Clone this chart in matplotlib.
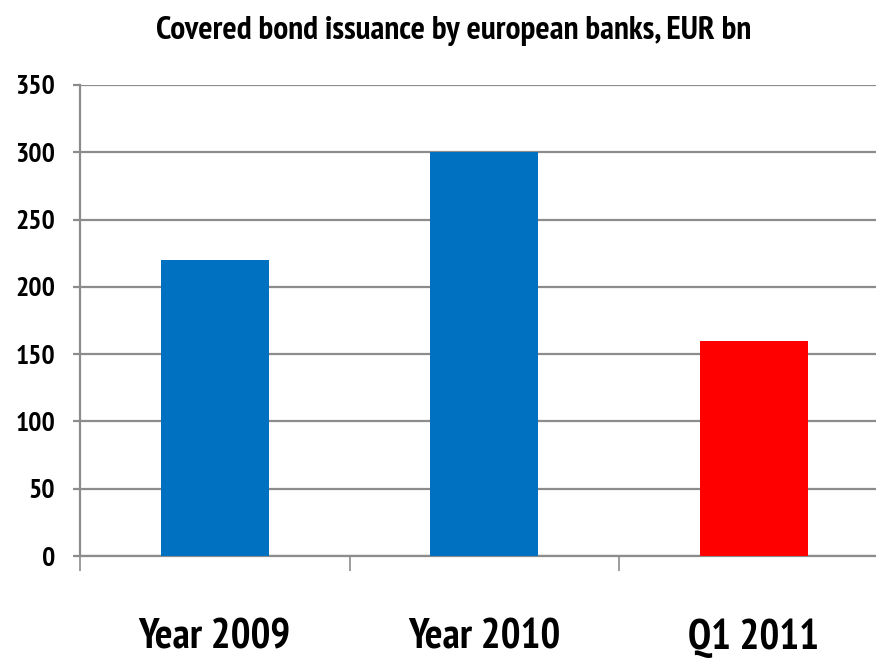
import matplotlib
matplotlib.use("Agg")
import matplotlib.pyplot as plt
import numpy as np

categories = ["Year 2009", "Year 2010", "Q1 2011"]
issuance = [220, 300, 160]
bar_colors = ["#0070C0", "#0070C0", "#FF0000"]
y_ticks = [0, 50, 100, 150, 200, 250, 300, 350]

plt.rcParams['font.family'] = ['PT Sans Narrow', 'DejaVu Sans']
plt.rcParams['font.weight'] = 'bold'

fig = plt.figure(figsize=(8.76, 6.59), dpi=100)
ax = fig.add_axes([80 / 876, 1 - 556 / 659, 808.5 / 876, 471 / 659])

x = np.arange(len(categories))
ax.bar(x, issuance, width=0.4, color=bar_colors, zorder=3)

ax.set_xlim(-0.5, len(categories) - 0.5)
ax.set_ylim(0, 350)
ax.set_yticks(y_ticks)
ax.set_yticklabels([str(v) for v in y_ticks], fontsize=20, fontweight='bold')
ax.yaxis.grid(True, color='#8c8c8c', linewidth=1.6, zorder=1)

# category boundaries carry the tick marks, centres carry the labels
ax.set_xticks(np.arange(len(categories) + 1) - 0.5)
ax.set_xticklabels([])
ax.set_xticks(x, minor=True)
ax.set_xticklabels(categories, minor=True, fontsize=30, fontweight='bold')
ax.tick_params(axis='x', which='major', direction='out', length=11, width=1.2, color='#8c8c8c')
ax.tick_params(axis='x', which='minor', length=0, pad=45)
ax.tick_params(axis='y', direction='out', length=5, width=1.6, color='#8c8c8c', pad=13)

for side in ['top', 'right']:
    ax.spines[side].set_visible(False)
for side in ['left', 'bottom']:
    ax.spines[side].set_color('#8c8c8c')
    ax.spines[side].set_linewidth(1.6)

fig.text(454 / 876, 1 - 31 / 659, "Covered bond issuance by european banks, EUR bn",
         ha='center', va='center', fontsize=24, fontweight='bold')

fig.savefig("out.png", dpi=100)
